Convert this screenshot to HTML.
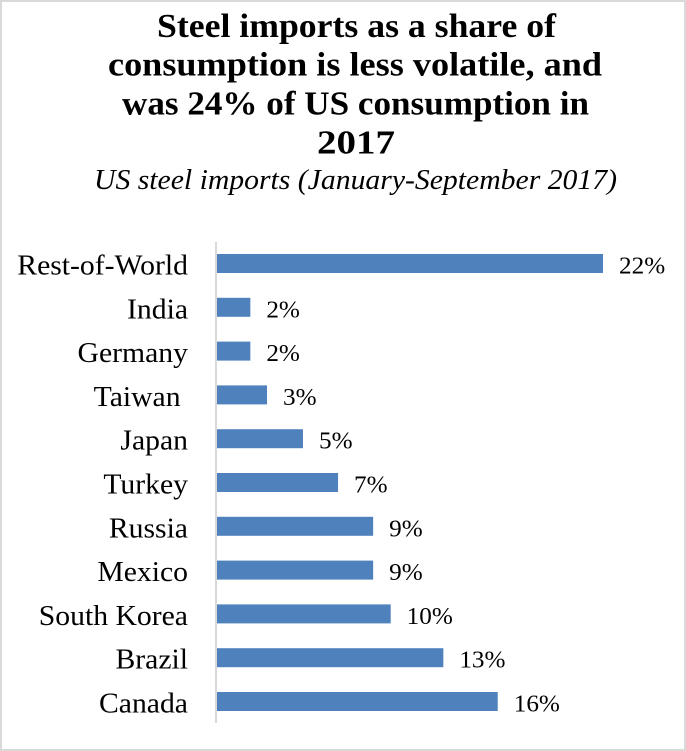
<!DOCTYPE html>
<html lang="en">
<head>
<meta charset="utf-8">
<title>US steel imports</title>
<style>
html,body{margin:0;padding:0;background:#fff;width:686px;height:751px;overflow:hidden}
svg{display:block;font-family:"Liberation Serif","DejaVu Serif",serif}
</style>
</head>
<body>
<svg id="chart" width="686" height="751" viewBox="0 0 686 751" xmlns="http://www.w3.org/2000/svg">
  <rect x="1" y="1" width="684" height="749" fill="#fff" stroke="#d9d9d9" stroke-width="2"/>
  <g font-weight="bold" font-size="34" fill="#000">
    <text x="157" y="37" textLength="399" lengthAdjust="spacingAndGlyphs">Steel imports as a share of</text>
    <text x="108" y="75.5" textLength="494" lengthAdjust="spacingAndGlyphs">consumption is less volatile, and</text>
    <text x="122" y="114.5" textLength="467" lengthAdjust="spacingAndGlyphs">was 24% of US consumption in</text>
    <text x="317" y="153.5" textLength="78" lengthAdjust="spacingAndGlyphs">2017</text>
  </g>
  <text x="94" y="189" font-size="29" font-style="italic" fill="#000" textLength="523" lengthAdjust="spacingAndGlyphs">US steel imports (January-September 2017)</text>
  <g id="plot"></g>
</svg>
<script>
const categories = ["Rest-of-World", "India", "Germany", "Taiwan\u00a0", "Japan", "Turkey", "Russia", "Mexico", "South Korea", "Brazil", "Canada"];
const shareValues = [22, 1.9, 1.9, 2.85, 4.9, 6.9, 8.9, 8.9, 9.9, 12.9, 16];

const plot = document.getElementById('plot');
const svgNS = 'http://www.w3.org/2000/svg';
const originX = 217;
const unitsToPx = 386 / 22;
const firstCenterY = 263.5;
const bandStep = 43.8;
const barHeight = 19;

function xScale(value) { return originX + value * unitsToPx; }
function yScale(index) { return firstCenterY + index * bandStep; }
function slug(text) { return text.trim().toLowerCase().replace(/[^a-z0-9]+/g, '-'); }

const axis = document.createElementNS(svgNS, 'line');


axis.setAttribute('x1', 216);
axis.setAttribute('x2', 216);
axis.setAttribute('y1', 242);
axis.setAttribute('y2', yScale(categories.length - 1) + 21.5);
axis.setAttribute('stroke', '#d9d9d9');
axis.setAttribute('stroke-width', 2);
plot.appendChild(axis);

categories.forEach(function (name, i) {
  const cy = yScale(i);
  const value = shareValues[i];

  const label = document.createElementNS(svgNS, 'text');
  
  
  label.setAttribute('y', cy + 11);
  label.setAttribute('font-size', '28');
  label.setAttribute('fill', '#000');
  label.textContent = name;
  plot.appendChild(label);
  const labelWidth = label.getComputedTextLength() * 1.06;
  label.setAttribute('x', 188 - labelWidth);
  label.setAttribute('textLength', labelWidth);
  label.setAttribute('lengthAdjust', 'spacingAndGlyphs');

  const bar = document.createElementNS(svgNS, 'rect');
  
  
  bar.setAttribute('x', originX);
  bar.setAttribute('y', cy - barHeight / 2);
  bar.setAttribute('width', xScale(value) - originX);
  bar.setAttribute('height', barHeight);
  bar.setAttribute('fill', '#4f81bd');
  plot.appendChild(bar);

  const valueLabel = document.createElementNS(svgNS, 'text');
  
  
  valueLabel.setAttribute('x', xScale(value) + 16);
  valueLabel.setAttribute('y', cy + 10);
  valueLabel.setAttribute('font-size', '24');
  valueLabel.setAttribute('fill', '#000');
  valueLabel.textContent = Math.round(value) + '%';
  plot.appendChild(valueLabel);
  const valueWidth = valueLabel.getComputedTextLength() * 1.05;
  valueLabel.setAttribute('textLength', valueWidth);
  valueLabel.setAttribute('lengthAdjust', 'spacingAndGlyphs');
});
</script>
</body>
</html>
